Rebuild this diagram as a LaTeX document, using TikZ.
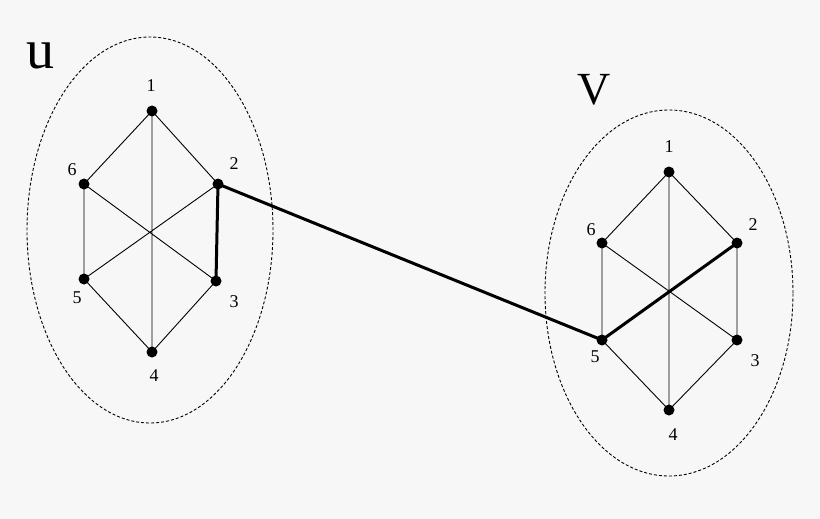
\documentclass[tikz,border=0pt]{standalone}
\usepackage{fontspec}
\usetikzlibrary{shapes.geometric}
\setmainfont{Liberation Serif}
\begin{document}
\begin{tikzpicture}[x=1pt,y=-1pt,
  dot/.style={circle,fill=black,inner sep=0pt,minimum size=11pt},
  lab/.style={font=\fontsize{18}{18}\selectfont},
  thin/.style={line width=0.9pt},
  thick2/.style={line width=3pt},
  ring/.style={draw,line width=0.9pt,dash pattern=on 3pt off 2pt,ellipse,inner sep=0pt}]
\fill[fill={rgb,255:red,247;green,247;blue,247}] (0,0) rectangle (820,519);
\useasboundingbox (0,0) rectangle (820,519);
\node[ring,minimum width=246pt,minimum height=386pt] (eu) at (150,230) {};
\node[ring,minimum width=248pt,minimum height=366pt] (ev) at (669,293) {};
\node[font=\fontsize{56}{56}\selectfont] (u) at (40,56) {u};
\node[font=\fontsize{46}{46}\selectfont] (v) at (594,90) {V};
% left
\node[dot] (a1) at (152,111) {}; \node[dot] (a2) at (218,184) {};
\node[dot] (a3) at (216,281) {}; \node[dot] (a4) at (152,352) {};
\node[dot] (a5) at (84,279) {};  \node[dot] (a6) at (84,184) {};
\node[lab] (la1) at (151,86) {1}; \node[lab] (la2) at (234,164) {2};
\node[lab] (la3) at (234,302) {3}; \node[lab] (la4) at (154,376) {4};
\node[lab] (la5) at (77,298) {5}; \node[lab] (la6) at (72,170) {6};
% right
\node[dot] (b1) at (669,172) {}; \node[dot] (b2) at (737,243) {};
\node[dot] (b3) at (737,340) {}; \node[dot] (b4) at (669,410) {};
\node[dot] (b5) at (602,340) {}; \node[dot] (b6) at (602,243) {};
\node[lab] (lb1) at (669,147) {1}; \node[lab] (lb2) at (753,225) {2};
\node[lab] (lb3) at (755,361) {3}; \node[lab] (lb4) at (673,435) {4};
\node[lab] (lb5) at (595,357) {5}; \node[lab] (lb6) at (591,230) {6};
\draw[thin] (a1.center)--(a2.center) (a1.center)--(a6.center) (a1.center)--(a4.center)
  (a3.center)--(a4.center) (a4.center)--(a5.center) (a5.center)--(a6.center)
  (a6.center)--(a3.center) (a2.center)--(a5.center);
\draw[thick2] (a2.center)--(a3.center);
\draw[thin] (b1.center)--(b2.center) (b1.center)--(b6.center) (b1.center)--(b4.center)
  (b2.center)--(b3.center) (b3.center)--(b4.center) (b4.center)--(b5.center)
  (b5.center)--(b6.center) (b6.center)--(b3.center);
\draw[thick2] (b2.center)--(b5.center);
\draw[thick2] (a2.center)--(b5.center);
\end{tikzpicture}
\end{document}
